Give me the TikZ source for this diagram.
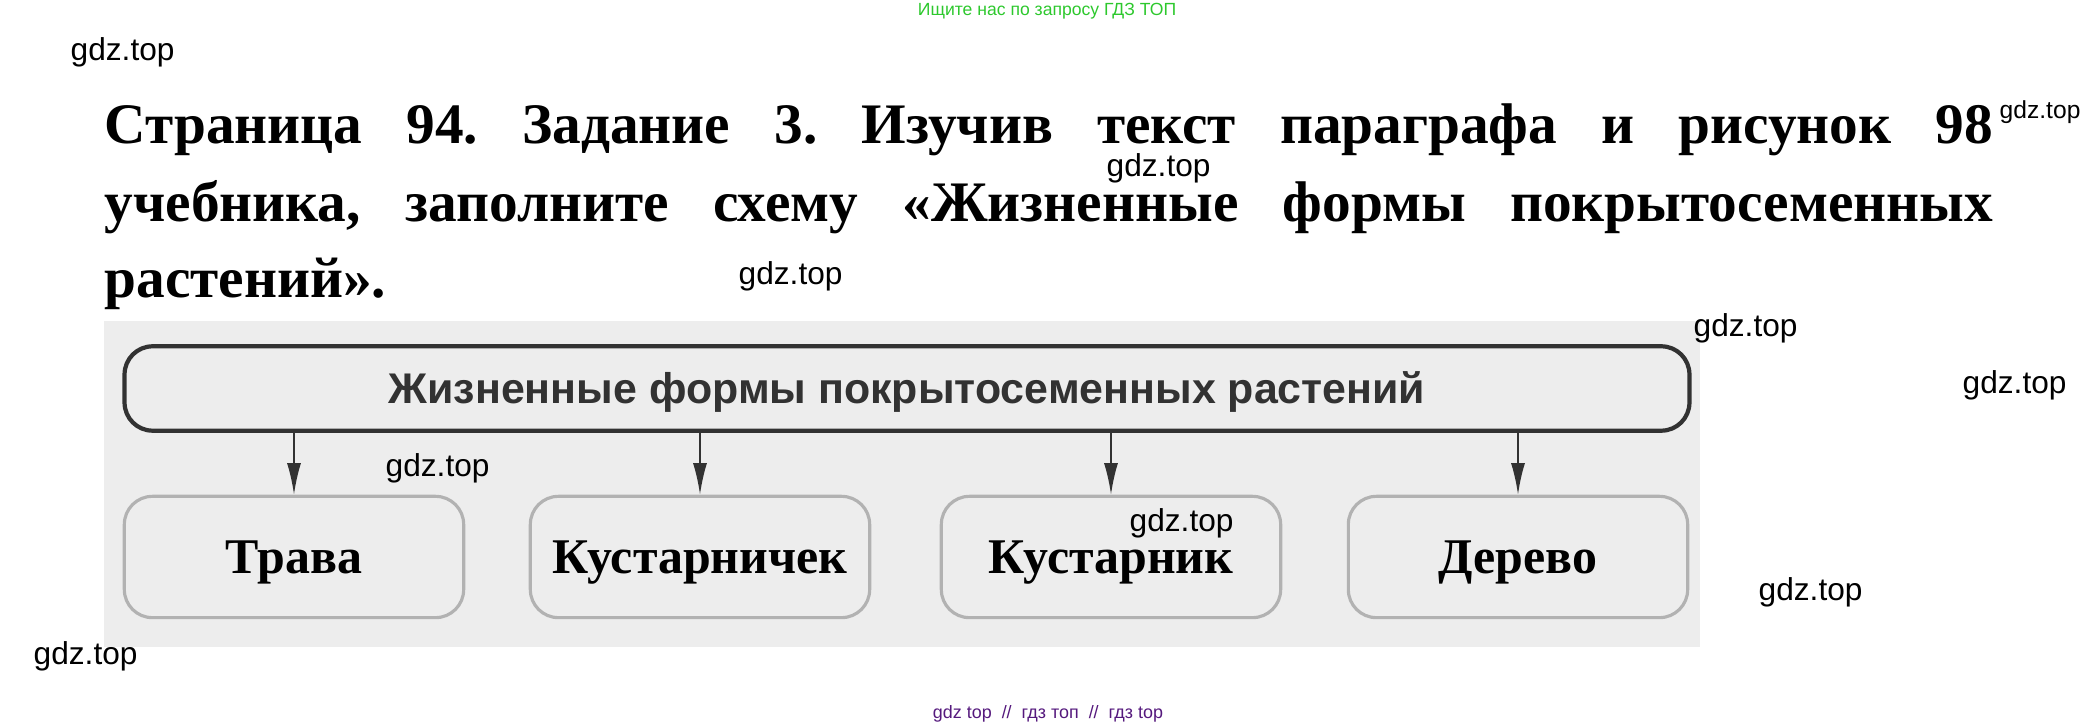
\documentclass[tikz,border=0pt]{standalone}
\usepackage{fontspec}
\setmainfont{Liberation Serif}
\newfontfamily\wmfont{Liberation Sans}
\usetikzlibrary{arrows.meta}
\frenchspacing
\definecolor{wmgreen}{RGB}{45,200,45}
\definecolor{wmpurple}{RGB}{85,25,125}
\definecolor{scanbg}{RGB}{237,237,237}
\definecolor{framedark}{RGB}{50,50,50}
\definecolor{framelight}{RGB}{178,178,178}
\tikzset{
  wm/.style={font=\wmfont\fontsize{9}{10}\selectfont, inner sep=0pt, anchor=west},
  titleline/.style={font=\bfseries\fontsize{16.3}{20}\selectfont, inner sep=0pt, anchor=base west},
  headbox/.style={draw=framedark, line width=1.2pt, rounded corners=8pt, inner sep=0pt,
    minimum width=445pt, minimum height=24pt, text height=8.4pt, text depth=0pt,
    text=framedark, font=\wmfont\bfseries\fontsize{12.2}{13}\selectfont},
  formbox/.style={draw=framelight, line width=0.9pt, rounded corners=8pt, inner sep=0pt,
    minimum width=96.5pt, minimum height=34.5pt, text height=9.5pt, text depth=0pt,
    font=\bfseries\fontsize{14.2}{16}\selectfont}
}
\begin{document}
\begin{tikzpicture}[x=0.01cm,y=-0.01cm]
  \useasboundingbox (0,0) rectangle (2096,728);

  % task text
  \node[titleline] (t1) at (104,144) {\makebox[537pt][s]{Страница 94. Задание 3. Изучив текст параграфа и рисунок 98}};
  \node[titleline] (t2) at (104,222) {\makebox[537pt][s]{учебника, заполните схему «Жизненные формы покрытосеменных}};
  \node[titleline] (t3) at (104,298) {растений».};

  % scheme
  \fill[scanbg] (104,321) rectangle (1700,647);
  \node[headbox] (top) at (907,388.5) {Жизненные формы покрытосеменных растений};
  \node[formbox] (b1) at (294,557) {Трава};
  \node[formbox] (b2) at (700,557) {Кустарничек};
  \node[formbox] (b3) at (1111,557) {Кустарник};
  \node[formbox] (b4) at (1518,557) {Дерево};
  \begin{scope}[-{Latex[length=9pt,width=4pt]},draw=framedark,line width=0.6pt]
      \foreach \b in {b1,b2,b3,b4}
          \draw (\b.north |- top.south) -- (\b.north);
  \end{scope}

  % watermarks
  \node[font=\wmfont\fontsize{5}{6}\selectfont, text=wmgreen, inner sep=0pt] (wtop) at (1047,11) {Ищите нас по запросу ГДЗ ТОП};
  \node[font=\wmfont\fontsize{5.1}{6}\selectfont, text=wmpurple, inner sep=0pt] (wbot) at (1048,714) {gdz top \ //\ \ гдз топ \ //\ \ гдз top};
  \begin{scope}[every node/.style={wm}]
      \node (w1) at (70,52) {gdz.top};
      \node[font=\wmfont\fontsize{7}{8}\selectfont] (w2) at (1999,112) {gdz.top};
      \node (w3) at (1106,168) {gdz.top};
      \node (w4) at (738,276) {gdz.top};
      \node (w5) at (1693,328) {gdz.top};
      \node (w6) at (1962,385) {gdz.top};
      \node (w7) at (385,468) {gdz.top};
      \node (w8) at (1129,523) {gdz.top};
      \node (w9) at (1758,592) {gdz.top};
      \node (w10) at (33,656) {gdz.top};
  \end{scope}
\end{tikzpicture}
\end{document}
